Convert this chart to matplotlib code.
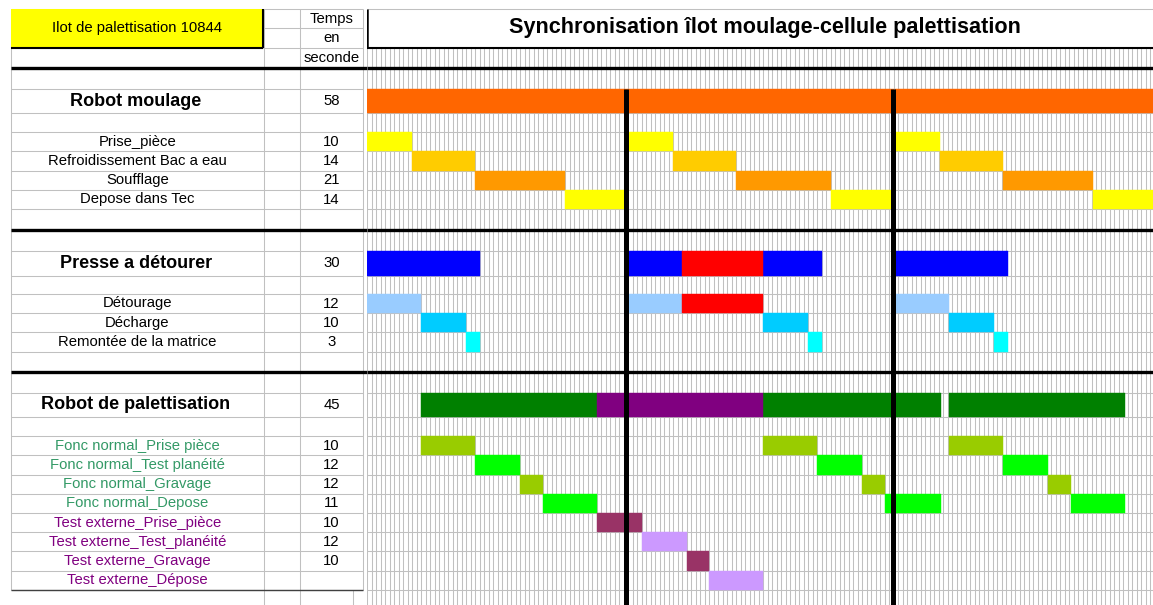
import matplotlib
matplotlib.use("Agg")
import matplotlib.pyplot as plt
from matplotlib.patches import Rectangle
import numpy as np

plt.rcParams['font.family'] = ['Liberation Sans', 'DejaVu Sans']

# Tâches et temps (colonne "Temps en seconde")
taches = ["Robot moulage", "Prise_pièce", "Refroidissement Bac a eau", "Soufflage",
          "Depose dans Tec", "Presse a détourer", "Détourage", "Décharge",
          "Remontée de la matrice", "Robot de palettisation",
          "Fonc normal_Prise pièce", "Fonc normal_Test planéité", "Fonc normal_Gravage",
          "Fonc normal_Depose", "Test externe_Prise_pièce", "Test externe_Test_planéité",
          "Test externe_Gravage", "Test externe_Dépose"]
temps = ["58", "10", "14", "21", "14", "30", "12", "10", "3", "45",
         "10", "12", "12", "11", "10", "12", "10", ""]
lignes = [4, 6, 7, 8, 9, 12, 14, 15, 16, 19, 21, 22, 23, 24, 25, 26, 27, 28]
gras = ["Robot moulage", "Presse a détourer", "Robot de palettisation"]

# Segments (début, durée) en secondes
robot_moulage = [(0, 58), (58, 59), (117.4, 58)]
prise_piece = [(0, 10), (58, 10), (117.4, 10)]
refroidissement = [(10, 14), (68, 14), (127.4, 14)]
soufflage = [(24, 20), (82, 21), (141.4, 20)]
depose_tec = [(44, 14), (103, 14), (161.4, 14)]

presse_normal = [(0, 25), (58, 12), (88, 13), (117.4, 25)]
presse_attente = [(70, 18)]
detourage = [(0, 12), (58, 12), (117.4, 12)]
detourage_attente = [(70, 18)]
decharge = [(12, 10), (88, 10), (129.4, 10)]
remontee = [(22, 3), (98, 3), (139.4, 3)]

palett_normal = [(12, 39), (88, 39.5), (129.4, 39)]
palett_test = [(51, 37)]
fn_prise = [(12, 12), (88, 12), (129.4, 12)]
fn_test = [(24, 10), (100, 10), (141.4, 10)]
fn_gravage = [(34, 5), (110, 5), (151.4, 5)]
fn_depose = [(39, 12), (115, 12.5), (156.4, 12)]
te_prise = [(51, 10)]
te_test = [(61, 10)]
te_gravage = [(71, 5)]
te_depose = [(76, 12)]

# lignes de synchronisation (fin de cycle robot moulage)
synchro = [57.5, 116.9]

barres = [
    (4, robot_moulage, "#FF6600"),
    (6, prise_piece, "#FFFF00"),
    (7, refroidissement, "#FFCC00"),
    (8, soufflage, "#FF9900"),
    (9, depose_tec, "#FFFF00"),
    (12, presse_normal, "#0000FF"),
    (12, presse_attente, "#FF0000"),
    (14, detourage, "#99CCFF"),
    (14, detourage_attente, "#FF0000"),
    (15, decharge, "#00CCFF"),
    (16, remontee, "#00FFFF"),
    (19, palett_normal, "#008000"),
    (19, palett_test, "#800080"),
    (21, fn_prise, "#99CC00"),
    (22, fn_test, "#00FF00"),
    (23, fn_gravage, "#99CC00"),
    (24, fn_depose, "#00FF00"),
    (25, te_prise, "#993366"),
    (26, te_test, "#CC99FF"),
    (27, te_gravage, "#993366"),
    (28, te_depose, "#CC99FF"),
]

# bords des lignes du tableur (px)
bords = [9, 28, 47.5, 68.3, 89, 113.3, 132.3, 151.3, 170.5, 190, 209, 229.5, 251,
         275.5, 294, 313, 332.3, 351.5, 372, 392.5, 417, 436, 455.3, 474.7, 493.7,
         513, 532.3, 551.3, 570.7, 590, 609.3]

W, H = 1153, 605
x0 = 367
px_s = 4.5
tmax = (W - x0) / px_s
gris = "#c0c0c0"
fs = 10.7

fig = plt.figure(figsize=(W / 100, H / 100), dpi=100)
ax_l = fig.add_axes([0, 0, x0 / W, 1])
ax_l.set_xlim(0, x0)
ax_l.set_ylim(H, 0)
ax_l.axis("off")
ax_t = fig.add_axes([x0 / W, 0, 1 - x0 / W, 1])
ax_t.set_xlim(0, tmax)
ax_t.set_ylim(H, 0)
ax_t.axis("off")

# quadrillage zone temps
ax_t.vlines(np.arange(0, int(tmax) + 1), bords[2], H, color=gris, lw=0.75, zorder=0)
ax_t.hlines(bords[2:-1], 0, tmax, color=gris, lw=0.75, zorder=0)

# quadrillage tableau
ax_l.hlines(bords[:-1], 11, 363, color=gris, lw=0.75, zorder=0)
ax_l.vlines([11, 264, 300, 363], bords[0], 590, color=gris, lw=0.75, zorder=0)
ax_l.vlines([264, 300, 353], 590, H, color=gris, lw=0.75, zorder=0)
ax_l.hlines(590, 11, 363, color="#404040", lw=1, zorder=2)

# cellule jaune
ax_l.add_patch(Rectangle((11, bords[0]), 252, bords[2] - bords[0], fc="#FFFF00", ec="none", zorder=1))
ax_l.vlines(263, bords[0], bords[2], color="k", lw=1.5, zorder=2)
ax_l.hlines(bords[2], 11, 263, color="k", lw=1.5, zorder=2)
ax_l.text(137, 28, "Ilot de palettisation 10844", ha="center", va="center", fontsize=fs)

# temps en seconde
for i, mot in enumerate(["Temps", "en", "seconde"]):
    ax_l.text(331.5, (bords[i] + bords[i + 1]) / 2, mot, ha="center", va="center", fontsize=fs)

# titre
ax_t.add_patch(Rectangle((0, bords[0]), tmax, bords[2] - bords[0], fc="white", ec="none", zorder=1))
ax_t.hlines(bords[0], 0, tmax, color=gris, lw=0.75, zorder=2)
ax_t.vlines(0, bords[0], bords[2], color="k", lw=1.8, zorder=2)
ax_t.hlines(bords[2], 0, tmax, color="k", lw=1.5, zorder=2)
ax_t.text((765 - x0) / px_s, 27.5, "Synchronisation îlot moulage-cellule palettisation",
          ha="center", va="center", fontsize=15.6, fontweight="bold", zorder=3)

# traits épais de séparation
for y in [bords[3], bords[11], bords[18]]:
    ax_l.hlines(y, 11, x0, color="k", lw=2.4, zorder=3)
    ax_t.hlines(y, 0, tmax, color="k", lw=2.4, zorder=3)

# libellés
for nom, t, r in zip(taches, temps, lignes):
    yc = (bords[r] + bords[r + 1]) / 2
    if nom.startswith("Fonc normal"):
        c = "#339966"
    elif nom.startswith("Test externe"):
        c = "#800080"
    else:
        c = "black"
    if nom in gras:
        ax_l.text(136, yc, nom, ha="center", va="center", fontsize=13, fontweight="bold", color=c)
    else:
        ax_l.text(137.5, yc, nom, ha="center", va="center", fontsize=fs, color=c)
    ax_l.text(331.5, yc, t, ha="center", va="center", fontsize=fs)

# barres
for r, seg, col in barres:
    ax_t.broken_barh(seg, (bords[r], bords[r + 1] - bords[r]), facecolors=col,
                     edgecolor=col, linewidth=0.3, zorder=2)

ax_t.vlines(synchro, bords[4], H, color="k", lw=3.6, zorder=5)

fig.savefig("out.png", dpi=100)
